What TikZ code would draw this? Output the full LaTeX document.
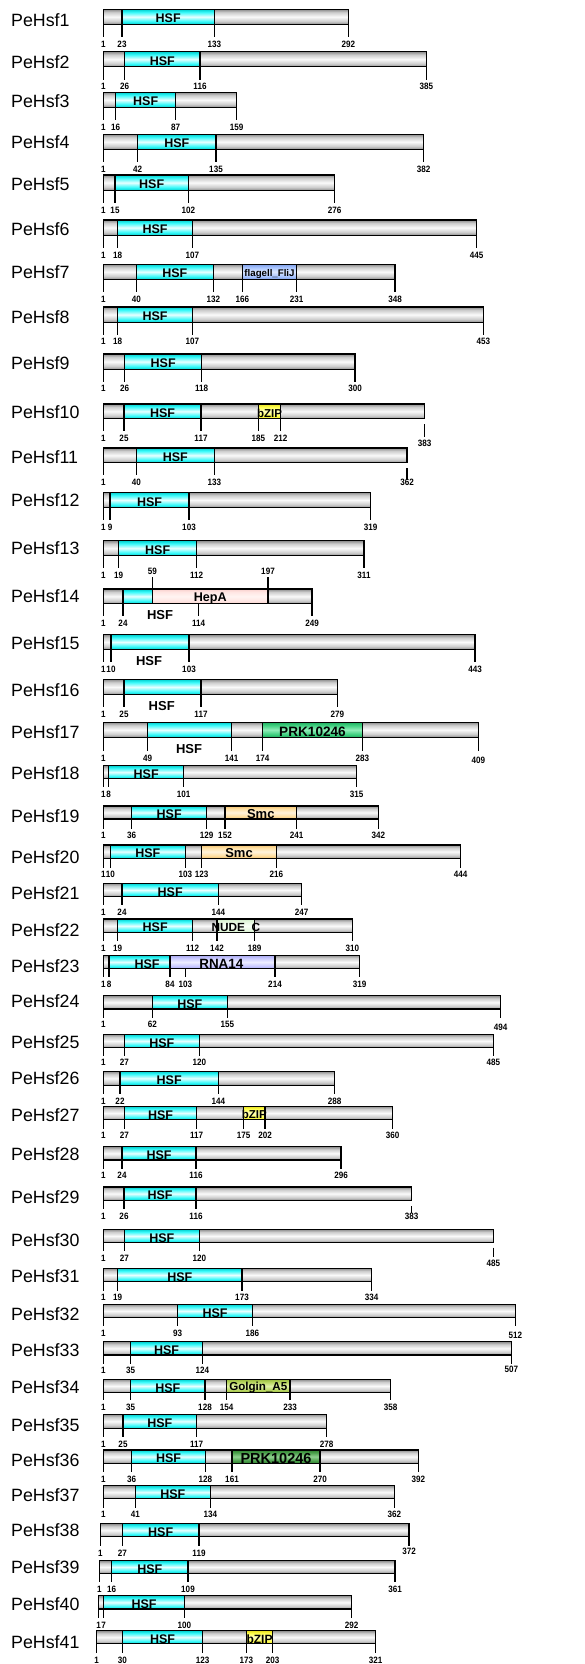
\documentclass[tikz,border=0pt]{standalone}
\usepackage{fontspec}
\setmainfont{Liberation Sans}
\newfontfamily\numfont[FakeStretch=0.88]{Liberation Sans}
\definecolor{gyE}{HTML}{8C8C8C}\definecolor{gyM}{HTML}{CDCDCD}\definecolor{gyC}{HTML}{FAFAFA}
\definecolor{cyE}{HTML}{00D0D0}\definecolor{cyM}{HTML}{3CFAFA}\definecolor{cyC}{HTML}{E8FFFF}
\definecolor{hpE}{HTML}{F8D0CC}\definecolor{hpM}{HTML}{FFE6E3}\definecolor{hpC}{HTML}{FFF4F2}
\definecolor{smE}{HTML}{F0C070}\definecolor{smM}{HTML}{FFDFA0}\definecolor{smC}{HTML}{FFF3DC}
\definecolor{paE}{HTML}{1FAF5F}\definecolor{paM}{HTML}{40D080}\definecolor{paC}{HTML}{90EDB8}
\definecolor{pbE}{HTML}{2F7F2F}\definecolor{pbM}{HTML}{4CA04C}\definecolor{pbC}{HTML}{90D090}
\definecolor{rnE}{HTML}{A8A8F0}\definecolor{rnM}{HTML}{C8C8FF}\definecolor{rnC}{HTML}{EEEEFF}
\definecolor{ndE}{HTML}{D0ECC8}\definecolor{ndM}{HTML}{E6F8E0}\definecolor{ndC}{HTML}{F8FFF6}
\definecolor{flE}{HTML}{7FA0E8}\definecolor{flM}{HTML}{A8C4FF}\definecolor{flC}{HTML}{DCE8FF}
\definecolor{goE}{HTML}{98B840}\definecolor{goM}{HTML}{B8D660}\definecolor{goC}{HTML}{E0F0A8}
\definecolor{bzE}{HTML}{E8E020}\definecolor{bzM}{HTML}{FFFF50}\definecolor{bzC}{HTML}{FFFFC0}
\newcommand\mkshade[4]{\pgfdeclareverticalshading{#1}{100bp}{color(0bp)=(#2); color(25bp)=(#2); color(35bp)=(#3); color(50bp)=(#4); color(65bp)=(#3); color(75bp)=(#2); color(100bp)=(#2)}}
\mkshade{shGrey}{gyE}{gyM}{gyC}
\mkshade{shCyan}{cyE}{cyM}{cyC}
\mkshade{shHep}{hpE}{hpM}{hpC}
\mkshade{shSmc}{smE}{smM}{smC}
\mkshade{shPrkA}{paE}{paM}{paC}
\mkshade{shPrkB}{pbE}{pbM}{pbC}
\mkshade{shRna}{rnE}{rnM}{rnC}
\mkshade{shNude}{ndE}{ndM}{ndC}
\mkshade{shFla}{flE}{flM}{flC}
\mkshade{shGolg}{goE}{goM}{goC}
\mkshade{shBzip}{bzE}{bzM}{bzC}
\tikzset{
 lab/.style={anchor=west, inner sep=0pt, font=\fontsize{17.8}{20}\selectfont},
 num/.style={inner sep=0pt, font=\numfont\bfseries\fontsize{9.2}{10}\selectfont},
 dtx/.style={inner sep=0pt, font=\bfseries\fontsize{#1}{#1}\selectfont},
 dtx/.default=12.5,
 barfill/.style={shade, shading=shGrey, draw=black, line width=1.3pt},
 tickl/.style={draw=black, line width=1.2pt},
}
\newcommand\prow[7]{%
  \def\rI{#1}\def\rT{#5}\def\rB{#6}\def\rN{#7}%
  \node[lab] (lab#1) at (11,#2) {PeHsf#1};
  \path[barfill] (#3,#5) rectangle (#4,#6);
}
\newcommand\dm[3]{\path[shade,shading=#1,draw=black,line width=1.1pt] (#2,\rT) rectangle (#3,\rB);}
\newcommand\dt[4][dtx]{\node[#1] (#3\rI) at ({#2},{(\rT+\rB)/2+1.8}) {#4};}
\newcommand\hsf[2]{\dm{shCyan}{#1}{#2}\dt{(#1+#2)/2}{h}{HSF}}
\newcommand\tk[2]{\draw[tickl] (#1,\rB) -- (#1,{\rN-7}); \node[num] (n\rI-#2) at (#1,\rN) {#2};}
\newcommand\tkd[3]{\draw[tickl] (#1,\rB) -- (#1,{\rN-7}); \node[num] (n\rI-#2) at (#1,#3) {#2};}
\begin{document}
\begin{tikzpicture}[x=1pt,y=-1pt]
\path[fill=white, use as bounding box] (0,0) rectangle (585,1664);
% 1
\prow{1}{20}{103.3}{348.3}{9.3}{24.3}{44.3}\hsf{122}{214.3}
\tk{103.3}{1}\tk{122}{23}\tk{214.3}{133}\tk{348.3}{292}
% 2
\prow{2}{61.7}{103.3}{426.3}{51.7}{66.7}{86.7}\hsf{124.7}{200}
\tk{103.3}{1}\tk{124.7}{26}\tk{200}{116}\tk{426.3}{385}
% 3
\prow{3}{101}{103.3}{236.7}{92.3}{107.3}{127}\hsf{115.7}{175.7}
\tk{103.3}{1}\tk{115.7}{16}\tk{175.7}{87}\tk{236.7}{159}
% 4
\prow{4}{142.3}{103.3}{423.7}{134.3}{149.3}{169}\hsf{137.7}{216}
\tk{103.3}{1}\tk{137.7}{42}\tk{216}{135}\tk{423.7}{382}
% 5
\prow{5}{184.3}{103.3}{334.7}{175}{190.3}{210.3}\hsf{115}{188.3}
\tk{103.3}{1}\tk{115}{15}\tk{188.3}{102}\tk{334.7}{276}
% 6
\prow{6}{229}{103.3}{476.7}{220}{235.3}{255}\hsf{117.7}{192.3}
\tk{103.3}{1}\tk{117.7}{18}\tk{192.3}{107}\tk{476.7}{445}
% 7
\prow{7}{272.3}{103.3}{395}{264.3}{279.3}{299}\hsf{136.3}{213.3}
\dm{shFla}{242.3}{296.7}\dt[dtx=9.7]{269.5}{f}{flagell\_FliJ}
\tk{103.3}{1}\tk{136.3}{40}\tk{213.3}{132}\tk{242.3}{166}\tk{296.7}{231}\tk{395}{348}
% 8
\prow{8}{317.3}{103.3}{483.3}{307}{322.3}{341.7}\hsf{117.7}{192.3}
\tk{103.3}{1}\tk{117.7}{18}\tk{192.3}{107}\tk{483.3}{453}
% 9
\prow{9}{363.3}{103.3}{355}{354}{369.3}{388.7}\hsf{124.7}{201.7}
\tk{103.3}{1}\tk{124.7}{26}\tk{201.7}{118}\tk{355}{300}
% 10
\prow{10}{411.7}{103.3}{424.7}{404}{418.7}{438.3}\hsf{124}{201}
\dm{shBzip}{258.3}{280.7}\dt[dtx=11.5]{269.5}{b}{bZIP}
\tk{103.3}{1}\tk{124}{25}\tk{201}{117}\tk{258.3}{185}\tk{280.7}{212}
\node[num] (n10-383) at (424.7,443.7) {383};
\draw[tickl] (424.7,424) -- (424.7,436.7);
% 11
\prow{11}{456.7}{103.3}{407}{448}{462.7}{482.3}\hsf{136.3}{214.3}
\tk{103.3}{1}\tk{136.3}{40}\tk{214.3}{133}
\node[num] (n11-362) at (407,482.3) {362};
\draw[tickl] (407,468.3) -- (407,480);
% 12
\prow{12}{500}{103.3}{370.7}{492.3}{507.7}{527.3}\hsf{110}{189}
\tk{103.3}{1}\tk{110}{9}\tk{189}{103}\tk{370.7}{319}
% 13
\prow{13}{548.3}{103.3}{364}{540.7}{555.7}{575}\hsf{118.7}{196.7}
\tk{103.3}{1}\tk{118.7}{19}\tk{196.7}{112}\tk{364}{311}
% 14
\prow{14}{596}{103.3}{312}{589}{603.7}{623.3}
\dm{shCyan}{123}{152.3}\dm{shHep}{152.3}{268}\dt[dtx=12.6]{210.2}{e}{HepA}
\draw[tickl] (152.3,589) -- (152.3,576.7); \node[num] (n14-59) at (152.3,571) {59};
\draw[tickl] (268,589) -- (268,576.7); \node[num] (n14-197) at (268,571) {197};
\node[dtx=13] (hb14) at (160,615) {HSF};
\tk{103.3}{1}\tk{123}{24}\tk{198.7}{114}\tk{312}{249}
% 15
\prow{15}{642.7}{103.3}{475}{634.7}{649.3}{669}\dm{shCyan}{111}{189}
\node[dtx=13] (hb15) at (149,660.7) {HSF};
\tk{103.3}{1}\tk{111}{10}\tk{189}{103}\tk{475}{443}
% 16
\prow{16}{690}{103.3}{337.3}{679.3}{694.7}{714.3}\dm{shCyan}{124}{201}
\node[dtx=13] (hb16) at (161.7,705.7) {HSF};
\tk{103.3}{1}\tk{124}{25}\tk{201}{117}\tk{337.3}{279}
% 17
\prow{17}{731.7}{103.3}{478.3}{722.3}{737.3}{758}\dm{shCyan}{147.7}{231.7}
\dm{shPrkA}{262.7}{362.3}\dt[dtx=13.6]{312.5}{p}{PRK10246}
\node[dtx=13] (hb17) at (189,749.3) {HSF};
\tk{103.3}{1}\tk{147.7}{49}\tk{231.7}{141}\tk{262.7}{174}\tk{362.3}{283}\tkd{478.3}{409}{760}
% 18
\prow{18}{773.3}{103.3}{356.7}{765.7}{778.7}{794.3}\hsf{108.7}{183.7}
\tk{103.3}{1}\tk{108.7}{8}\tk{183.7}{101}\tk{356.7}{315}
% 19
\prow{19}{815.7}{103.3}{378.3}{806}{819}{835.7}\hsf{131.7}{206.7}
\dm{shSmc}{225}{296.7}\dt[dtx=13]{260.8}{s}{Smc}
\tk{103.3}{1}\tk{131.7}{36}\tk{206.7}{129}\tk{225}{152}\tk{296.7}{241}\tk{378.3}{342}
% 20
\prow{20}{857}{103.3}{460.7}{845}{858.3}{874.7}\hsf{110.3}{185.3}
\dm{shSmc}{201.7}{276.3}\dt[dtx=13]{239}{s}{Smc}
\tk{103.3}{1}\tk{110.3}{10}\tk{185.3}{103}\tk{201.7}{123}\tk{276.3}{216}\tk{460.7}{444}
% 21
\prow{21}{893.3}{103.3}{301.7}{883.3}{896.7}{912.3}\hsf{122}{218.3}
\tk{103.3}{1}\tk{122}{24}\tk{218.3}{144}\tk{301.7}{247}
% 22
\prow{22}{930}{103.3}{352.3}{919}{932.7}{948.3}\hsf{117.7}{192.7}
\dm{shNude}{217}{254.7}\dt[dtx=11.8]{235.8}{u}{NUDE\_C}
\tk{103.3}{1}\tk{117.7}{19}\tk{192.7}{112}\tk{217}{142}\tk{254.7}{189}\tk{352.3}{310}
% 23
\prow{23}{966}{103.3}{359.7}{955.3}{968.7}{984.3}
\dm{shCyan}{109}{170}\dt{147}{h}{HSF}
\dm{shRna}{170}{275}\dt[dtx=13.4]{221.3}{r}{RNA14}
\tk{103.3}{1}\tk{109}{8}\tk{170}{84}\tk{185.3}{103}\tk{275}{214}\tk{359.7}{319}
% 24
\prow{24}{1001}{103.3}{500.7}{995.7}{1009}{1024.7}\hsf{152.3}{227.3}
\tk{103.3}{1}\tk{152.3}{62}\tk{227.3}{155}\tkd{500.7}{494}{1027}
% 25
\prow{25}{1041.7}{103.3}{493.3}{1034.3}{1047.7}{1062.7}\hsf{124.3}{199.3}
\tk{103.3}{1}\tk{124.3}{27}\tk{199.3}{120}\tk{493.3}{485}
% 26
\prow{26}{1078.3}{103.3}{334.7}{1071.3}{1085.3}{1101}\hsf{120}{218.3}
\tk{103.3}{1}\tk{120}{22}\tk{218.3}{144}\tk{334.7}{288}
% 27
\prow{27}{1115}{103.3}{392.7}{1106.3}{1119.8}{1135.7}\hsf{124.3}{196.7}
\dm{shBzip}{243.7}{265}\dt[dtx=11.5]{254.3}{b}{bZIP}
\tk{103.3}{1}\tk{124.3}{27}\tk{196.7}{117}\tk{243.7}{175}\tk{265}{202}\tk{392.7}{360}
% 28
\prow{28}{1154.3}{103.3}{341}{1146.7}{1160}{1175.7}\hsf{122}{196}
\tk{103.3}{1}\tk{122}{24}\tk{196}{116}\tk{341}{296}
% 29
\prow{29}{1196.7}{103.3}{411.7}{1187}{1200.3}{1216.3}\hsf{124}{196}
\tk{103.3}{1}\tk{124}{26}\tk{196}{116}
\node[num] (n29-383) at (411.7,1216.3) {383};
\draw[tickl] (411.7,1206) -- (411.7,1213.3);
% 30
\prow{30}{1240}{103.3}{493.3}{1229.3}{1242.7}{1258.3}\hsf{124.3}{199.3}
\tk{103.3}{1}\tk{124.3}{27}\tk{199.3}{120}
\node[num] (n30-485) at (493.3,1263.3) {485};
\draw[tickl] (493.3,1247.7) -- (493.3,1256.7);
% 31
\prow{31}{1275.7}{103.3}{371.7}{1268.3}{1281.7}{1297.7}\hsf{117.7}{242}
\tk{103.3}{1}\tk{117.7}{19}\tk{242}{173}\tk{371.7}{334}
% 32
\prow{32}{1314.3}{103.3}{515.3}{1304.3}{1317.7}{1333.3}\hsf{177.7}{252.3}
\tk{103.3}{1}\tk{177.7}{93}\tk{252.3}{186}\tkd{515.3}{512}{1335.7}
% 33
\prow{33}{1350}{103.3}{511.3}{1341.7}{1355}{1370.7}\hsf{130.7}{202.3}
\tk{103.3}{1}\tk{130.7}{35}\tk{202.3}{124}\tkd{511.3}{507}{1369}
% 34
\prow{34}{1387}{103.3}{390.7}{1379.3}{1392.7}{1407.3}\hsf{130.7}{205}
\dm{shGolg}{226.7}{290}\dt[dtx=11.6]{258.3}{g}{Golgin\_A5}
\tk{103.3}{1}\tk{130.7}{35}\tk{205}{128}\tk{226.7}{154}\tk{290}{233}\tk{390.7}{358}
% 35
\prow{35}{1425}{103.3}{326.7}{1414.3}{1428.3}{1444.3}\hsf{123}{196.7}
\tk{103.3}{1}\tk{123}{25}\tk{196.7}{117}\tk{326.7}{278}
% 36
\prow{36}{1460}{103.3}{418.3}{1450}{1463.3}{1479.3}\hsf{131.7}{205.3}
\dm{shPrkB}{232}{320}\dt[dtx=14.5]{276}{p}{PRK10246}
\tk{103.3}{1}\tk{131.7}{36}\tk{205.3}{128}\tk{232}{161}\tk{320}{270}\tk{418.3}{392}
% 37
\prow{37}{1495}{103.3}{394.3}{1485.7}{1498.7}{1514.7}\hsf{135.3}{210.3}
\tk{103.3}{1}\tk{135.3}{41}\tk{210.3}{134}\tk{394.3}{362}
% 38
\prow{38}{1530}{100.3}{409}{1523.7}{1536.7}{1553}\hsf{122.3}{199}
\tk{100.3}{1}\tk{122.3}{27}\tk{199}{119}\tkd{409}{372}{1551}
% 39
\prow{39}{1567.3}{99.3}{395}{1560.7}{1573.3}{1589.3}\hsf{111.7}{188}
\tk{99.3}{1}\tk{111.7}{16}\tk{188}{109}\tk{395}{361}
% 40
\prow{40}{1604}{98.7}{351.7}{1595.7}{1609}{1625}\hsf{103.7}{184.3}
\tk{98.7}{1}\tk{103.7}{7}\tk{184.3}{100}\tk{351.7}{292}
% 41
\prow{41}{1641.7}{96.7}{375.7}{1630.7}{1643.7}{1660}\hsf{122.3}{202.7}
\dm{shBzip}{246.3}{272.7}\dt[dtx=12]{259.5}{b}{bZIP}
\tk{96.7}{1}\tk{122.3}{30}\tk{202.7}{123}\tk{246.3}{173}\tk{272.7}{203}\tk{375.7}{321}
\end{tikzpicture}
\end{document}
